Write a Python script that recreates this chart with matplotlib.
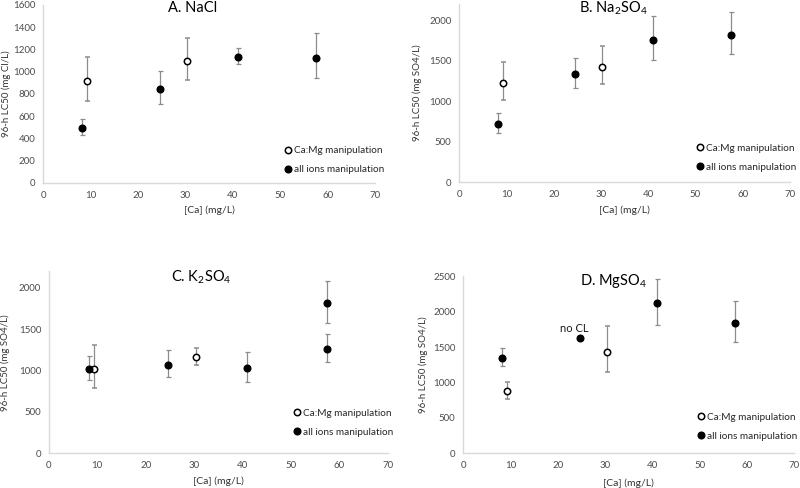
import matplotlib
matplotlib.use("Agg")
import matplotlib.pyplot as plt
import numpy as np

plt.rcParams["font.family"] = ["Lato", "DejaVu Sans"]
plt.rcParams["mathtext.default"] = "regular"

# x positions ([Ca], mg/L)
ca_open = [9.3, 30.3]
ca_all = [8.2, 24.6, 41.0, 57.5]
ca_all_k = [8.2, 24.6, 41.0, 57.5, 57.5]

# A. NaCl
nacl_open = [912, 1092]
nacl_open_lo = [738, 921]
nacl_open_hi = [1134, 1300]
nacl_all = [495, 846, 1134, 1125]
nacl_all_lo = [429, 714, 1068, 940]
nacl_all_hi = [576, 1002, 1210, 1350]

# B. Na2SO4
na2so4_open = [1229, 1422]
na2so4_open_lo = [1019, 1205]
na2so4_open_hi = [1477, 1682]
na2so4_all = [717, 1336, 1753, 1815]
na2so4_all_lo = [606, 1163, 1505, 1580]
na2so4_all_hi = [858, 1530, 2045, 2094]

# C. K2SO4
k2so4_open = [1019, 1164]
k2so4_open_lo = [790, 1068]
k2so4_open_hi = [1313, 1277]
k2so4_all = [1019, 1072, 1024, 1811, 1260]
k2so4_all_lo = [891, 923, 859, 1578, 1104]
k2so4_all_hi = [1172, 1253, 1224, 2076, 1437]

# D. MgSO4 (24.6 point has no confidence limits)
mgso4_open = [880, 1435]
mgso4_open_lo = [763, 1153]
mgso4_open_hi = [1007, 1794]
mgso4_all = [1350, 1624, 2123, 1836]
mgso4_all_lo = [1237, 1624, 1816, 1576]
mgso4_all_hi = [1483, 1624, 2458, 2147]

panels = [
    dict(rect=[0.054, 0.625, 0.415, 0.365], title="A. NaCl", tx=0.45, ty=0.985,
         ylabel="96-h LC50 (mg Cl/L)", ylim=1600, ystep=200, ylx=-0.097, xly=-0.152,
         leg=(0.728, 0.127),
         op=(nacl_open, nacl_open_lo, nacl_open_hi), al=(ca_all, nacl_all, nacl_all_lo, nacl_all_hi)),
    dict(rect=[0.574, 0.627, 0.4135, 0.365], title="B. Na$_2$SO$_4$", tx=0.465, ty=0.975,
         ylabel="96-h LC50 (mg SO4/L)", ylim=2200, ystep=500, ylx=-0.112, xly=-0.157,
         leg=(0.72, 0.137),
         op=(na2so4_open, na2so4_open_lo, na2so4_open_hi), al=(ca_all, na2so4_all, na2so4_all_lo, na2so4_all_hi)),
    dict(rect=[0.061, 0.071, 0.424, 0.3736], title="C. K$_2$SO$_4$", tx=0.45, ty=0.965,
         ylabel="96-h LC50 (mg SO4/L)", ylim=2200, ystep=500, ylx=-0.113, xly=-0.154,
         leg=(0.722, 0.167),
         op=(k2so4_open, k2so4_open_lo, k2so4_open_hi), al=(ca_all_k, k2so4_all, k2so4_all_lo, k2so4_all_hi)),
    dict(rect=[0.579, 0.071, 0.414, 0.3627], title="D. MgSO$_4$", tx=0.455, ty=0.975,
         ylabel="96-h LC50 (mg SO4/L)", ylim=2500, ystep=500, ylx=-0.106, xly=-0.17,
         leg=(0.709, 0.15),
         op=(mgso4_open, mgso4_open_lo, mgso4_open_hi), al=(ca_all, mgso4_all, mgso4_all_lo, mgso4_all_hi)),
]

fig = plt.figure(figsize=(8, 4.88), dpi=100)
tick_col = "#4d4d4d"
err_col = "#8c8c8c"

for p in panels:
    ax = fig.add_axes(p["rect"])
    yo, yo_lo, yo_hi = p["op"]
    xa, ya, ya_lo, ya_hi = p["al"]
    yo, ya = np.array(yo), np.array(ya)
    eo = [yo - np.array(yo_lo), np.array(yo_hi) - yo]
    ea = [ya - np.array(ya_lo), np.array(ya_hi) - ya]

    ax.errorbar(ca_open, yo, yerr=eo, fmt="o", ms=4.6, mfc="white", mec="black", mew=1.1,
                ecolor=err_col, elinewidth=0.9, capsize=1.8, capthick=0.9,
                label="Ca:Mg manipulation", zorder=3)
    ax.errorbar(xa, ya, yerr=ea, fmt="o", ms=4.8, mfc="black", mec="black",
                ecolor=err_col, elinewidth=0.9, capsize=1.8, capthick=0.9,
                label="all ions manipulation", zorder=3)

    ax.set_xlim(0, 70)
    ax.set_ylim(0, p["ylim"])
    ax.set_xticks(np.arange(0, 71, 10))
    ax.set_yticks(np.arange(0, p["ylim"] + 1, p["ystep"]))
    ax.tick_params(length=0, labelsize=7, colors=tick_col, pad=5.5)
    for s in ["top", "right"]:
        ax.spines[s].set_visible(False)
    for s in ["left", "bottom"]:
        ax.spines[s].set_color("#d9d9d9")
        ax.spines[s].set_linewidth(1.0)

    ax.set_ylabel(p["ylabel"], fontsize=7, color="#333333")
    ax.yaxis.set_label_coords(p["ylx"], 0.5)
    ax.set_xlabel("[Ca] (mg/L)", fontsize=7.5, color="#333333")
    ax.xaxis.set_label_coords(0.5, p["xly"])
    ax.xaxis.label.set_va("center")

    ax.text(p["tx"], p["ty"], p["title"], transform=ax.transAxes, ha="center", va="center",
            fontsize=10.5, color="black")

    h, l = ax.get_legend_handles_labels()
    h = [x[0] for x in h]
    ax.legend(h, l, loc="center left", bbox_to_anchor=p["leg"], frameon=False,
              fontsize=7.2, handlelength=0.6, handletextpad=0.3, labelspacing=1.0,
              borderpad=0, borderaxespad=0, labelcolor="#262626")

# label for the MgSO4 point with no confidence limits
axd = fig.axes[3]
axd.text(23.4, 1680, "no CL", ha="center", va="bottom", fontsize=8, color="#1a1a1a")

plt.savefig("out.png", dpi=100)
